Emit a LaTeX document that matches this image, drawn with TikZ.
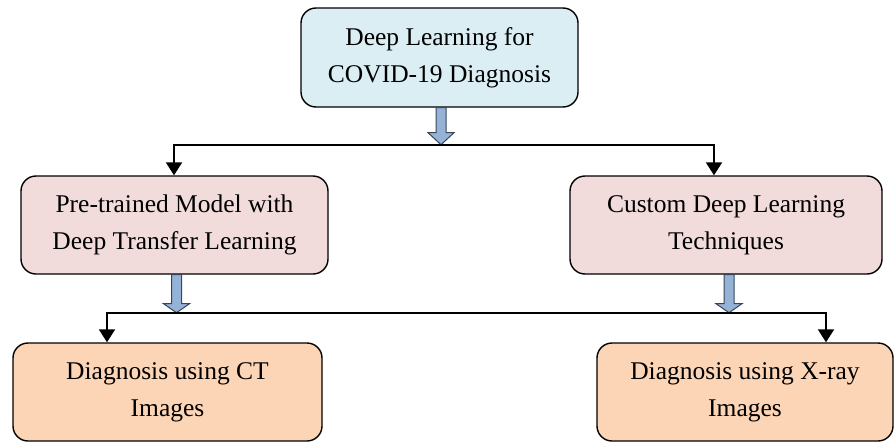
\documentclass[tikz,border=0pt]{standalone}
\usepackage{fontspec}
\setmainfont{Liberation Serif}
\usetikzlibrary{arrows.meta}
\definecolor{topfill}{HTML}{DBEEF4}
\definecolor{midfill}{HTML}{F2DCDB}
\definecolor{botfill}{HTML}{FBD5B5}
\definecolor{blkfill}{HTML}{95B3D7}
\definecolor{blkline}{HTML}{3A4658}
\newcommand{\blkarrow}[4]{%
  \draw[blk] ([xshift=#2pt]#1.south) ++(-5,0) -- ++(0,#3) -- ++(-8,0) -- ++(13,#4) -- ++(13,-#4) -- ++(-8,0) -- ++(0,-#3) -- cycle;}
\begin{document}
\begin{tikzpicture}[x=1pt,y=-1pt,
  box/.style={draw=black, line width=1.4pt, rounded corners=15pt, align=center, inner sep=0pt,
    font=\fontsize{25.5}{37}\selectfont, text=black},
  topbox/.style={box, fill=topfill, minimum width=277pt, minimum height=99pt},
  midbox/.style={box, fill=midfill, minimum height=98pt},
  botbox/.style={box, fill=botfill, minimum height=98pt},
  conn/.style={draw=black, line width=2pt, -{Triangle[width=16pt,length=13pt]}},
  blk/.style={fill=blkfill, draw=blkline, line width=1pt, line join=miter}]
\useasboundingbox (0,0) rectangle (894,442);
\node[topbox] (T) at (439.5,57.5) {Deep Learning for\\COVID-19 Diagnosis};
\node[midbox, minimum width=307pt] (ML) at (174.5,225) {Pre-trained Model with\\Deep Transfer Learning};
\node[midbox, minimum width=312pt] (MR) at (726,225) {Custom Deep Learning\\Techniques};
\node[botbox, minimum width=309pt] (BL) at (167.5,392) {Diagnosis using CT\\Images};
\node[botbox, minimum width=296pt] (BR) at (745,392) {Diagnosis using X-ray\\Images};
% block arrows
\blkarrow{T}{1.5}{25}{12}
\blkarrow{ML}{2}{29}{9}
\blkarrow{MR}{3}{29}{9}
% connectors
\coordinate (j1) at (441,145);
\coordinate (j2) at (467,313);
\draw[conn] (j1) -| ([xshift=-0.5pt]ML.north);
\draw[conn] (j1) -| ([xshift=-12pt]MR.north);
\draw[conn] (j2) -| ([xshift=-60.5pt]BL.north);
\draw[conn] (j2) -| ([xshift=81pt]BR.north);
\end{tikzpicture}
\end{document}
